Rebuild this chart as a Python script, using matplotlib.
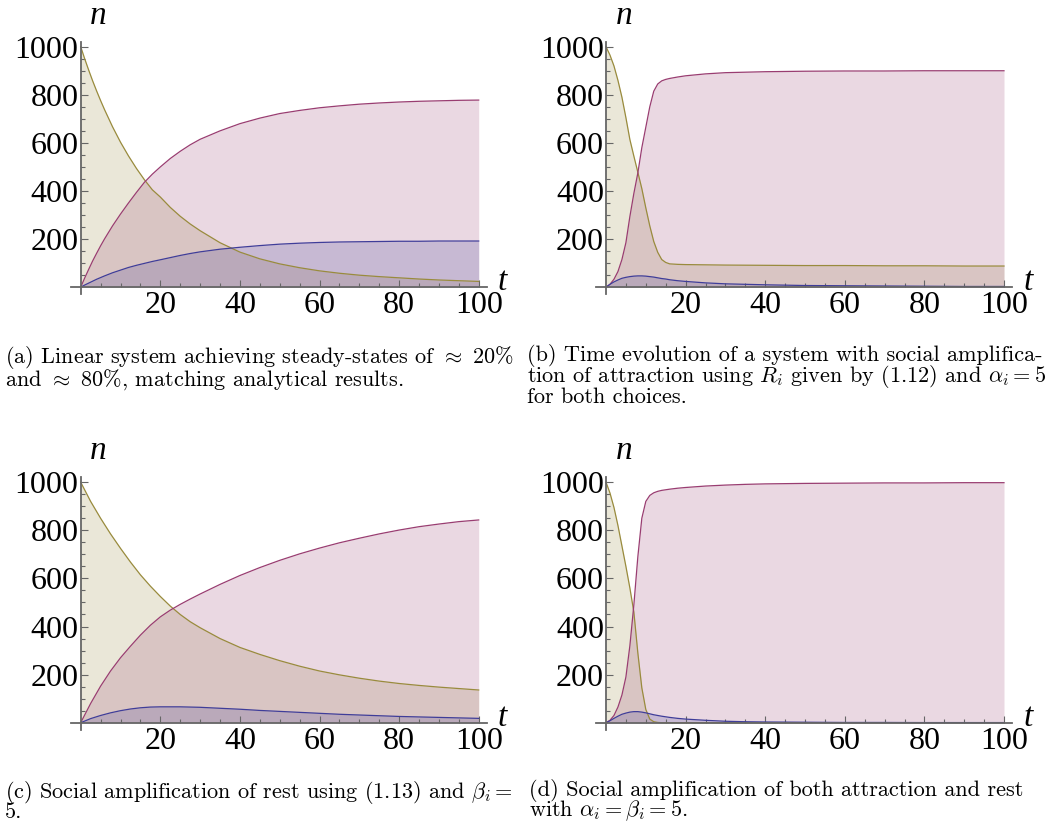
import numpy as np
import matplotlib
matplotlib.use("Agg")
import matplotlib.pyplot as plt
from matplotlib.ticker import FixedLocator

plt.rcParams['mathtext.fontset'] = 'cm'

# ---- data ----
# (a) linear system
t_a = [0, 1, 2, 3, 4, 5, 6, 8, 10, 12, 14, 16, 18, 20, 22.5, 25, 27.5, 30, 35, 40, 45,
       50, 55, 60, 65, 70, 75, 80, 85, 90, 95, 100]
blue_a = [0, 9, 17, 25, 33, 40, 47, 60, 71, 82, 91, 99, 107, 114, 123, 132, 140, 147, 158,
          166, 173, 179, 183, 186, 188, 189, 190, 191, 191, 192, 192, 192]
purple_a = [0, 38, 74, 109, 141, 172, 201, 255, 304, 350, 394, 436, 470, 500, 535, 565, 592,
            615, 650, 680, 703, 722, 735, 746, 754, 761, 766, 770, 773, 775, 777, 778]
yellow_a = [1000, 950, 903, 858, 816, 776, 738, 667, 603, 546, 494, 447, 405, 375, 332, 295,
            263, 235, 185, 146, 118, 97, 81, 68, 58, 50, 44, 39, 34, 30, 27, 24]

# (b) social amplification of attraction
t_b = [0, 1, 2, 3, 4, 5, 6, 7, 8, 9, 10, 11, 12, 13, 14, 15, 16, 18, 20, 25, 30, 40, 50,
       60, 70, 80, 90, 100]
blue_b = [0, 12, 22, 30, 37, 41, 44, 46, 47, 47, 46, 44, 42, 39, 36, 34, 31, 27, 24, 18, 14,
          10, 7, 6, 5, 4, 3, 3]
purple_b = [0, 12, 33, 65, 115, 185, 294, 390, 475, 580, 665, 750, 815, 845, 858, 864, 868,
            874, 879, 887, 892, 896, 898, 899, 899, 900, 900, 900]
yellow_b = [1000, 965, 920, 860, 790, 705, 614, 545, 478, 410, 330, 255, 190, 145, 115, 103,
            97, 95, 94, 93, 92, 91, 90, 90, 89, 89, 88, 88]

# (c) social amplification of rest
t_c = [0, 2.5, 5, 7.5, 10, 12.5, 15, 17.5, 20, 22.5, 25, 27.5, 30, 35, 40, 45, 50, 55, 60,
       65, 70, 75, 80, 85, 90, 95, 100]
blue_c = [0, 17, 30, 41, 50, 57, 62, 65, 66, 66, 66, 65, 64, 60, 56, 51, 47, 43, 39, 35, 32,
          29, 26, 24, 22, 20, 18]
purple_c = [0, 80, 152, 215, 270, 318, 364, 405, 440, 468, 492, 514, 535, 575, 612, 645, 675,
            702, 726, 748, 767, 785, 801, 815, 826, 836, 843]
yellow_c = [1000, 920, 850, 785, 725, 668, 615, 568, 525, 485, 450, 420, 395, 350, 313, 284,
            258, 235, 215, 199, 185, 173, 163, 155, 148, 142, 136]

# (d) amplification of both
t_d = [0, 1, 2, 3, 4, 5, 6, 7, 8, 9, 10, 11, 12, 13, 14, 16, 18, 20, 25, 30, 35, 40, 50, 60,
       70, 80, 90, 100]
blue_d = [0, 8, 18, 27, 35, 40, 44, 46, 46, 44, 41, 37, 33, 30, 27, 22, 18, 15, 10, 6, 4, 3,
          2, 1, 1, 0.5, 0.5, 0.5]
purple_d = [0, 10, 30, 65, 115, 190, 320, 490, 690, 850, 920, 945, 956, 962, 966, 971, 975,
            978, 984, 988, 991, 993, 995, 996, 997, 997, 998, 998]
yellow_d = [1000, 955, 895, 820, 735, 650, 560, 460, 290, 145, 55, 15, 4, 1, 0, 0, 0, 0, 0, 0,
            0, 0, 0, 0, 0, 0, 0, 0]

captions = [
    ["(a) Linear system achieving steady-states of ${\\approx}$ 20%",
     "and ${\\approx}$ 80%, matching analytical results."],
    ["(b) Time evolution of a system with social amplifica-",
     "tion of attraction using $R_i$ given by (1.12) and $\\alpha_i = 5$",
     "for both choices."],
    ["(c) Social amplification of rest using (1.13) and $\\beta_i =$",
     "5."],
    ["(d) Social amplification of both attraction and rest",
     "with $\\alpha_i = \\beta_i = 5$."],
]

c_blue = (0.2472, 0.24, 0.6)
c_purple = (0.6, 0.24, 0.442893)
c_yellow = (0.6, 0.547014, 0.24)

panels = [
    (t_a, blue_a, purple_a, yellow_a),
    (t_b, blue_b, purple_b, yellow_b),
    (t_c, blue_c, purple_c, yellow_c),
    (t_d, blue_d, purple_d, yellow_d),
]

W, H = 1047, 831
fig = plt.figure(figsize=(W / 100, H / 100), dpi=100)

origins = [(80.7, 287.2), (606.0, 287.2), (80.7, 722.7), (606.0, 722.7)]
xs = 3.98      # px per t unit
ys = 0.2405    # px per n unit
x0, x1 = -2.5, 102
y0, y1 = -30, 1020

axes_color = '#666666'
for k, (t, b, p, y) in enumerate(panels):
    ox, oy = origins[k]
    left = (ox + x0 * xs) / W
    width = (x1 - x0) * xs / W
    bottom = 1 - (oy - y0 * ys) / H
    height = (y1 - y0) * ys / H
    ax = fig.add_axes([left, bottom, width, height])
    ax.patch.set_alpha(0)

    for vals, col in [(y, c_yellow), (p, c_purple), (b, c_blue)]:
        ax.fill_between(t, 0, vals, color=col, alpha=0.2, lw=0)
    for vals, col in [(y, c_yellow), (p, c_purple), (b, c_blue)]:
        ax.plot(t, vals, color=col, lw=0.9)

    ax.set_xlim(x0, x1)
    ax.set_ylim(y0, y1)
    ax.spines['left'].set_position(('data', 0))
    ax.spines['bottom'].set_position(('data', 0))
    ax.spines['top'].set_visible(False)
    ax.spines['right'].set_visible(False)
    for s in ['left', 'bottom']:
        ax.spines[s].set_color(axes_color)
        ax.spines[s].set_linewidth(1.3)

    ax.xaxis.set_major_locator(FixedLocator([20, 40, 60, 80, 100]))
    ax.xaxis.set_minor_locator(FixedLocator([v for v in range(5, 101, 5) if v % 20]))
    ax.yaxis.set_major_locator(FixedLocator([200, 400, 600, 800, 1000]))
    ax.yaxis.set_minor_locator(FixedLocator([v for v in range(50, 1001, 50) if v % 200]))
    ax.tick_params(which='both', direction='in', color=axes_color, width=0.8)
    ax.tick_params(which='major', length=5)
    ax.tick_params(which='minor', length=3)
    ax.tick_params(axis='y', which='major', pad=1.5)
    ax.tick_params(axis='x', which='major', pad=3)
    for lab in ax.get_xticklabels() + ax.get_yticklabels():
        lab.set_fontfamily('Liberation Serif')
        lab.set_fontsize(23)

    ax.text(4.5, 1130, 'n', fontfamily='Liberation Serif', style='italic',
            fontsize=24, ha='center', va='center', clip_on=False)
    ax.text(106, 22, 't', fontfamily='Liberation Serif', style='italic',
            fontsize=24, ha='center', va='center', clip_on=False)

cap_pos = [(5, 344), (527, 344), (5, 779), (529, 779)]
for (cx, cy), lines in zip(cap_pos, captions):
    fig.text(cx / W, 1 - cy / H, "\n".join(lines), ha='left', va='top',
             fontsize=16, family=['cmr10', 'DejaVu Serif'], linespacing=0.8)

fig.savefig("out.png", dpi=100)
